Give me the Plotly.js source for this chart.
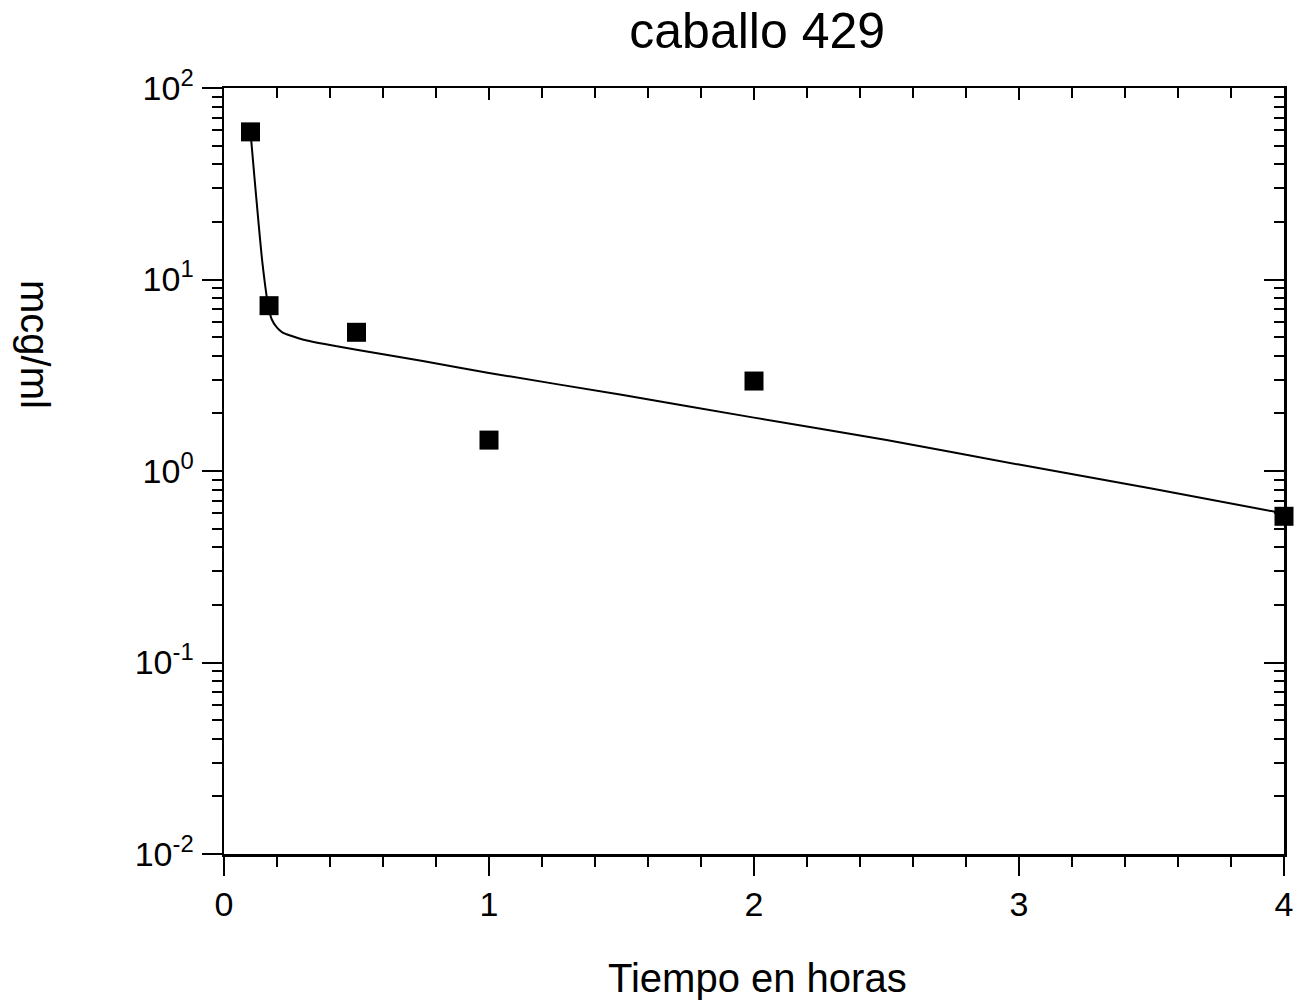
<!DOCTYPE html>
<html>
<head>
<meta charset="utf-8">
<script src="https://cdn.plot.ly/plotly-3.0.1.min.js"></script>
<style>html,body{margin:0;padding:0;background:#fff;}#chart{width:1307px;height:1006px;}</style>
</head>
<body>
<div id="chart"></div>
<script>
// Observed data (time in hours, concentration in mcg/ml)
var obsTime = [0.1, 0.17, 0.5, 1.0, 2.0, 4.0];
var obsConc = [59, 7.3, 5.3, 1.45, 2.95, 0.58];

// Fitted curve
var fitTime = [0.1, 0.115, 0.13, 0.145, 0.166, 0.18, 0.2, 0.22, 0.25, 0.3, 0.4, 0.5, 0.75, 1.0, 1.5, 2.0, 2.5, 3.0, 3.5, 4.0];
var fitConc = [59, 34, 20, 12.2, 7.4, 6.2, 5.6, 5.3, 5.1, 4.85, 4.55, 4.3, 3.75, 3.25, 2.5, 1.9, 1.45, 1.08, 0.81, 0.6];

// Tick labels
var yTickVals = [0.01, 0.1, 1, 10, 100];
var yTickText = ['10<sup>-2</sup>', '10<sup>-1</sup>', '10<sup>0</sup>', '10<sup>1</sup>', '10<sup>2</sup>'];
var xTickVals = [0, 1, 2, 3, 4];
var xTickText = ['0', '1', '2', '3', '4'];

var FONT = 'Arial, "Liberation Sans", sans-serif';

var traces = [
  {x: fitTime, y: fitConc, mode: 'lines', line: {color: '#000', width: 2, shape: 'spline', smoothing: 0.6}, hoverinfo: 'skip', showlegend: false},
  {x: obsTime, y: obsConc, mode: 'markers', marker: {symbol: 'square', size: 19, color: '#000'}, showlegend: false, cliponaxis: false},
  {x: [null], y: [null], xaxis: 'x2', yaxis: 'y2', mode: 'markers', showlegend: false}
];

var axisLine = {showline: true, linecolor: '#000', linewidth: 2.5, showgrid: false, zeroline: false};

var layout = {
  width: 1307, height: 1006,
  margin: {l: 224, r: 23, t: 88, b: 152, pad: 0},
  paper_bgcolor: '#fff', plot_bgcolor: '#fff',
  font: {family: FONT, color: '#000'},
  showlegend: false,
  title: {text: 'caballo 429', font: {family: FONT, size: 50, color: '#000'}, x: 0.503, xanchor: 'center', xref: 'paper', y: 1 - 30/1006, yanchor: 'middle', yref: 'container'},
  xaxis: Object.assign({}, axisLine, {
    range: [0, 4], tickmode: 'array', tickvals: xTickVals, ticktext: xTickText,
    ticks: 'outside', ticklen: 19, tickwidth: 2, tickcolor: '#000',
    tickfont: {family: FONT, size: 34, color: '#000'},
    minor: {dtick: 0.2, tick0: 0, ticks: 'outside', ticklen: 10, tickwidth: 2, tickcolor: '#000', showgrid: false}
  }),
  xaxis2: Object.assign({}, axisLine, {
    overlaying: 'x', side: 'top', anchor: 'y', range: [0, 4], dtick: 1, tick0: 0,
    ticks: 'inside', ticklen: 12, tickwidth: 2, tickcolor: '#000', showticklabels: false,
    minor: {dtick: 0.2, tick0: 0, ticks: 'inside', ticklen: 10, tickwidth: 2, tickcolor: '#000', showgrid: false}
  }),
  yaxis: Object.assign({}, axisLine, {
    type: 'log', range: [-2, 2], tickmode: 'array', tickvals: yTickVals, ticktext: yTickText,
    ticks: 'outside', ticklen: 20, tickwidth: 2, tickcolor: '#000', ticklabelstandoff: 1,
    tickfont: {family: FONT, size: 34, color: '#000'},
    minor: {dtick: 'D1', ticks: 'outside', ticklen: 10, tickwidth: 2, tickcolor: '#000', showgrid: false}
  }),
  yaxis2: Object.assign({}, axisLine, {
    type: 'log', overlaying: 'y', side: 'right', anchor: 'x', range: [-2, 2], dtick: 1,
    ticks: 'inside', ticklen: 20, tickwidth: 2, tickcolor: '#000', showticklabels: false,
    minor: {dtick: 'D1', ticks: 'inside', ticklen: 10, tickwidth: 2, tickcolor: '#000', showgrid: false}
  }),
  annotations: [
    {text: 'Tiempo en horas', xref: 'paper', yref: 'paper', x: 0.503, y: (854 - 978) / 766, xanchor: 'center', yanchor: 'middle', showarrow: false, font: {family: FONT, size: 40, color: '#000'}},
    {text: 'mcg/ml', xref: 'paper', yref: 'paper', x: (35 - 224) / 1060, y: (854 - 344) / 766, xanchor: 'center', yanchor: 'middle', textangle: 90, showarrow: false, font: {family: FONT, size: 40, color: '#000'}}
  ]
};

Plotly.newPlot('chart', traces, layout, {displayModeBar: false, staticPlot: true});
</script>
</body>
</html>
